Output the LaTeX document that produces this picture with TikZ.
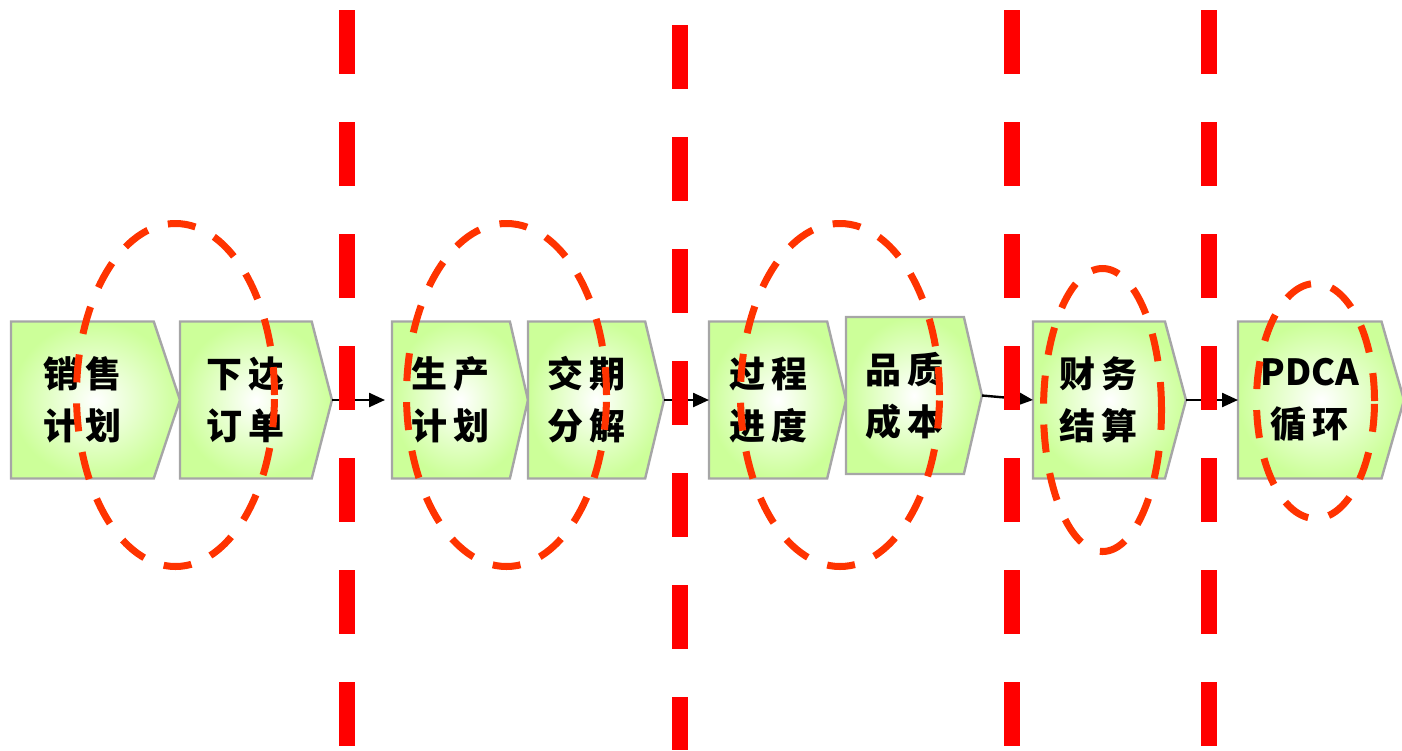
\documentclass[tikz,border=0pt]{standalone}
\usepackage{fontspec}
\newfontfamily\cjk{Noto Sans CJK SC}
\usetikzlibrary{arrows.meta, positioning, shapes.symbols}

\definecolor{boxgreen}{RGB}{204,255,153}
\definecolor{boxgray}{RGB}{166,166,166}
\definecolor{cutred}{RGB}{255,0,0}
\definecolor{ringred}{RGB}{255,51,0}

\begin{document}
\begin{tikzpicture}[
            x = 0.5pt, y = -0.5pt, % one unit per pixel, y downwards
            > = {Triangle[length=8pt, width=7pt]}, % arrow head style
            line width = 1.2pt
        ]

        \tikzstyle{stage}=[
            signal, signal to = east,
            anchor = west,
            outer sep = 0pt,
            draw = boxgray,
            line width = 1.2pt,
            shading = radial,
            inner color = white,
            outer color = boxgreen,
            minimum height = 78.5pt,
            align = center,
            font = \cjk\bfseries\fontsize{18}{26}\selectfont
        ]
        \tikzstyle{cut}=[cutred, line width = 8pt, dash pattern = on 32pt off 24pt]
        \tikzstyle{ring}=[ringred, line width = 3.5pt, dash pattern = on 14pt off 10.5pt]

        \useasboundingbox (0,0) rectangle (1402,750);

        \node[stage, minimum width = 84.5pt, signal pointer angle = 143] (sales) at (11,400) {销\,售\\计\,划};
        \node[stage, minimum width = 76pt, signal pointer angle = 151] (order) [right=0pt of sales] {下\,达\\订\,单};
        \node[stage, minimum width = 68pt, signal pointer angle = 154] (plan) at (392,400) {生\,产\\计\,划};
        \node[stage, minimum width = 68pt, signal pointer angle = 153] (split) [right=0pt of plan] {交\,期\\分\,解};
        \node[stage, minimum width = 68.5pt, signal pointer angle = 153] (track) at (709,400) {过\,程\\进\,度};
        \node[stage, minimum width = 68pt, signal pointer angle = 154] (cost) [right=0pt of track, yshift=2.25pt] {品\,质\\成\,本};
        \node[stage, minimum width = 76.5pt, signal pointer angle = 150] (settle) at (1033,400) {财\,务\\结\,算};
        \node[stage, minimum width = 83pt, signal pointer angle = 148] (pdca) at (1238,400) {PDCA\\循\,环};

        \draw[->, shorten > = 3.5pt] (order.east) -- (plan.west);
        \draw[->] (split.east) -- (track.west);
        \draw[->] (cost.east) -- (settle.west);
        \draw[->] (settle.east) -- (pdca.west);

        % phase borders
        \foreach \x/\top in {347/10, 680/25, 1012/10, 1209/10}
            \draw[cut] (\x,\top) -- (\x,750);

        % focus rings
        \draw[ring] (175.5,395) ellipse [x radius = 49.5pt, y radius = 85.75pt];
        \draw[ring] (506.5,395) ellipse [x radius = 50pt, y radius = 85.75pt];
        \draw[ring] (840,395) ellipse [x radius = 49.75pt, y radius = 85.75pt];
        \draw[ring] (1102.5,410) ellipse [x radius = 29.5pt, y radius = 70.75pt];
        \draw[ring] (1315.5,401) ellipse [x radius = 29.5pt, y radius = 58.75pt];

    \end{tikzpicture}
\end{document}
